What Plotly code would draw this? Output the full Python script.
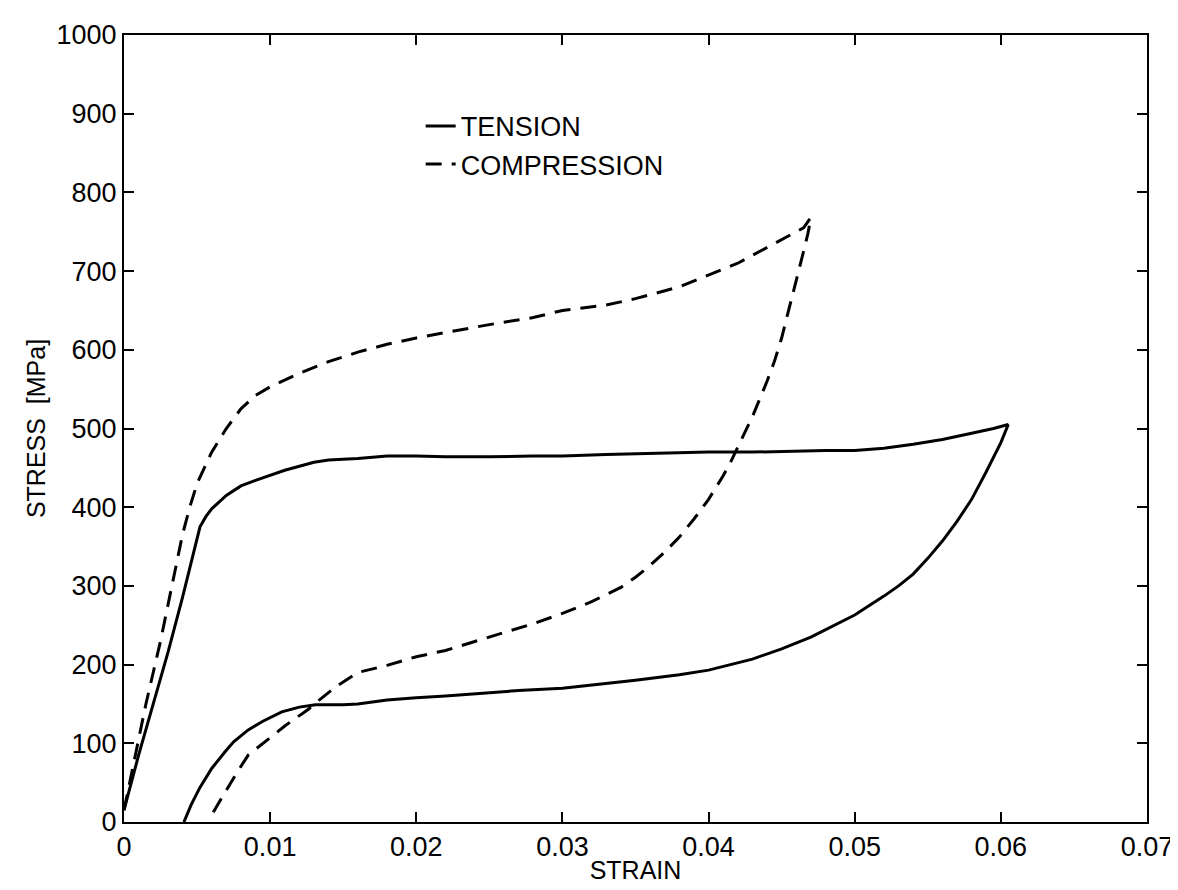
import plotly.graph_objects as go

# Tension (solid) loop: loading then unloading
tension_strain = [0.0, 0.0005, 0.001, 0.002, 0.003, 0.004, 0.0048, 0.0052, 0.0056, 0.006, 0.007, 0.008, 0.009,
                  0.010, 0.011, 0.012, 0.013, 0.014, 0.016, 0.018, 0.020, 0.022, 0.025, 0.028,
                  0.030, 0.033, 0.035, 0.038, 0.040, 0.043, 0.045, 0.048, 0.050, 0.052, 0.054,
                  0.056, 0.058, 0.0595, 0.0605,
                  0.0600, 0.0590, 0.0580, 0.0570, 0.0560, 0.0550, 0.0540, 0.0530, 0.0520, 0.0500,
                  0.0480, 0.0470, 0.0450, 0.0430, 0.0400, 0.0380, 0.0350, 0.0320, 0.0300, 0.0270,
                  0.0250, 0.0220, 0.0200, 0.0180, 0.0160, 0.0150, 0.0140, 0.0131, 0.0120, 0.0108,
                  0.0095, 0.0085, 0.0075, 0.0069, 0.0060, 0.0052, 0.0046, 0.0041]
tension_stress = [15, 50, 85, 150, 215, 285, 345, 375, 388, 398, 415, 427, 434,
                  440, 447, 452, 457, 460, 462, 465, 465, 464, 464, 465,
                  465, 467, 468, 469, 470, 470, 471, 472, 472, 475, 480,
                  486, 494, 500, 505,
                  482, 445, 410, 382, 357, 335, 315, 300, 287, 263,
                  244, 235, 220, 207, 193, 187, 180, 174, 170, 167,
                  164, 160, 158, 155, 150, 149, 149, 149, 146, 140,
                  128, 117, 102, 89, 68, 44, 22, 0]

# Compression (dashed) loop: loading then unloading
compression_strain = [0.0, 0.0005, 0.001, 0.0015, 0.002, 0.0025, 0.003, 0.0035, 0.004, 0.0045,
                      0.005, 0.006, 0.007, 0.008, 0.009, 0.010, 0.011, 0.012, 0.014, 0.016,
                      0.018, 0.020, 0.022, 0.025, 0.028, 0.030, 0.033, 0.035, 0.038, 0.040,
                      0.042, 0.044, 0.0455, 0.0465, 0.0470,
                      0.0468, 0.0465, 0.0460, 0.0455, 0.0450, 0.0445, 0.0440, 0.0430, 0.0420,
                      0.0415, 0.0410, 0.0400, 0.0390, 0.0380, 0.0370, 0.0360, 0.0350, 0.0340,
                      0.0320, 0.0300, 0.0280, 0.0250, 0.0220, 0.0200, 0.0180, 0.0160, 0.0145,
                      0.0131, 0.0126, 0.0110, 0.0094, 0.0085, 0.0078, 0.0071, 0.0066, 0.0061]
compression_stress = [15, 60, 105, 150, 190, 230, 275, 320, 365, 400,
                      430, 470, 500, 525, 542, 553, 562, 570, 585, 597,
                      607, 615, 622, 632, 641, 650, 657, 665, 680, 695,
                      710, 730, 745, 755, 768,
                      748, 725, 688, 650, 615, 585, 560, 515, 475,
                      457, 440, 410, 385, 362, 343, 326, 311, 298,
                      280, 265, 252, 235, 218, 210, 199, 190, 172,
                      151, 143, 122, 98, 85, 65, 44, 28, 12]

x_ticks = [0, 0.01, 0.02, 0.03, 0.04, 0.05, 0.06, 0.07]
x_tick_labels = ["0", "0.01", "0.02", "0.03", "0.04", "0.05", "0.06", "0.07"]
y_ticks = [0, 100, 200, 300, 400, 500, 600, 700, 800, 900, 1000]

fig = go.Figure()
fig.add_trace(go.Scatter(x=tension_strain, y=tension_stress, mode="lines", name="TENSION",
                         line=dict(color="black", width=3)))
fig.add_trace(go.Scatter(x=compression_strain, y=compression_stress, mode="lines", name="COMPRESSION",
                         line=dict(color="black", width=3, dash="16px,10px")))

font_family = "Liberation Sans, Arial, Helvetica, sans-serif"
fig.update_layout(
    width=1178, height=890,
    margin=dict(l=116, r=39, t=20, b=76),
    paper_bgcolor="white", plot_bgcolor="white",
    font=dict(family=font_family, size=26, color="black"),
    showlegend=True,
    legend=dict(x=0.29, y=0.915, xanchor="left", yanchor="top",
                bgcolor="rgba(0,0,0,0)", borderwidth=0,
                font=dict(size=27), tracegroupgap=0, itemwidth=30),
)
fig.update_xaxes(range=[0, 0.07], tickvals=x_ticks, ticktext=x_tick_labels,
                 ticks="inside", ticklen=10, tickwidth=2, tickcolor="black",
                 showline=True, linecolor="black", linewidth=2, mirror="ticks",
                 showgrid=False, zeroline=False,
                 title=dict(text="STRAIN", standoff=0, font=dict(size=25)),
                 tickfont=dict(size=27))
fig.update_yaxes(range=[0, 1000], tickvals=y_ticks,
                 ticks="inside", ticklen=10, tickwidth=2, tickcolor="black",
                 showline=True, linecolor="black", linewidth=2, mirror="ticks",
                 showgrid=False, zeroline=False,
                 title=dict(text="STRESS  [MPa]", standoff=4, font=dict(size=25)),
                 tickfont=dict(size=27))

fig.write_html("out.html")
